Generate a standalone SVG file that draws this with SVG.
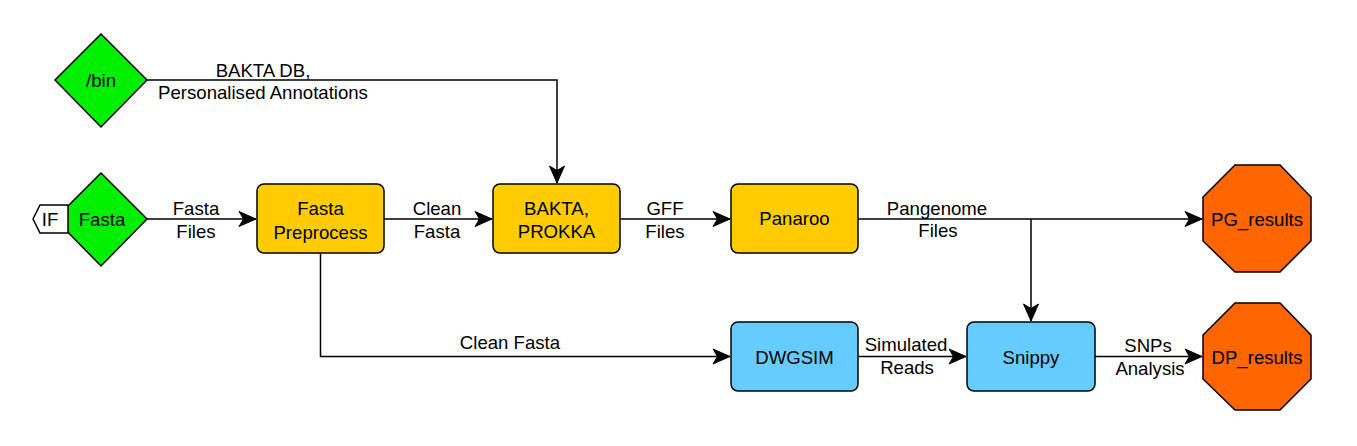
<svg xmlns="http://www.w3.org/2000/svg" width="1357" height="446" viewBox="0 0 1357 446">
<style>
text{font-family:"Liberation Sans",Arial,sans-serif;font-size:18.6px;fill:#000;text-anchor:middle}
.y{fill:#FFCC00;stroke:#000;stroke-width:1.5}
.b{fill:#66CCFF;stroke:#000;stroke-width:1.5}
.g{fill:#00EE00;stroke:#000;stroke-width:1.5}
.o{fill:#FF6600;stroke:#000;stroke-width:1.5}
.e{fill:none;stroke:#000;stroke-width:1.5}
</style>
<defs>
<marker id="ar" markerUnits="userSpaceOnUse" markerWidth="20" markerHeight="18" viewBox="-18 -9 20 18" refX="0" refY="0" orient="auto" overflow="visible">
<path d="M0,0 L-17,-7.5 L-12.5,0 L-17,7.5 Z" fill="#000" stroke="#000" stroke-width="1"/>
</marker>
</defs>
<g id="connectors">
<path class="e" d="M147,80 H557 V183" marker-end="url(#ar)"/>
<path class="e" d="M147,219 H256" marker-end="url(#ar)"/>
<path class="e" d="M384,219 H492" marker-end="url(#ar)"/>
<path class="e" d="M620,219 H730" marker-end="url(#ar)"/>
<path class="e" d="M858,219 H1202" marker-end="url(#ar)"/>
<path class="e" d="M1031,219 V321" marker-end="url(#ar)"/>
<path class="e" d="M320.5,253 V356.5 H730" marker-end="url(#ar)"/>
<path class="e" d="M858,356.5 H966" marker-end="url(#ar)"/>
<path class="e" d="M1095,356.5 H1202" marker-end="url(#ar)"/>
<text x="263" y="77">BAKTA DB,</text>
<text x="263" y="99">Personalised Annotations</text>
<text x="196" y="214.5">Fasta</text>
<text x="196" y="237.5">Files</text>
<text x="437" y="214.5">Clean</text>
<text x="437" y="237.5">Fasta</text>
<text x="665" y="214.5">GFF</text>
<text x="665" y="237.5">Files</text>
<text x="937" y="215">Pangenome</text>
<text x="938" y="237">Files</text>
<text x="510" y="348.5">Clean Fasta</text>
<text x="906" y="351">Simulated</text>
<text x="907" y="374">Reads</text>
<text x="1148" y="352">SNPs</text>
<text x="1150" y="375">Analysis</text>
</g>
<g id="bin">
<polygon class="g" points="101,34 147,80 101,127 55,80"/>
<text x="101" y="87">/bin</text>
</g>
<g id="fasta">
<polygon class="g" points="101,173 147,219 101,266 55,219"/>
<polygon points="33,219 40,205 68,205 68,233 40,233" fill="#fff" stroke="#000" stroke-width="1.5"/>
<text x="50" y="226">IF</text>
<text x="102" y="226">Fasta</text>
</g>
<g id="preprocess">
<rect class="y" x="257" y="184" width="127" height="69" rx="7"/>
<text x="320.5" y="214.5">Fasta</text>
<text x="320.5" y="238.5">Preprocess</text>
</g>
<g id="bakta">
<rect class="y" x="493" y="184" width="127" height="69" rx="7"/>
<text x="556.5" y="215">BAKTA,</text>
<text x="556.5" y="238">PROKKA</text>
</g>
<g id="panaroo">
<rect class="y" x="731" y="184" width="127" height="69" rx="7"/>
<text x="794.5" y="225">Panaroo</text>
</g>
<g id="dwgsim">
<rect class="b" x="731" y="322" width="127" height="69" rx="7"/>
<text x="794.5" y="364">DWGSIM</text>
</g>
<g id="snippy">
<rect class="b" x="967" y="322" width="128" height="69" rx="7"/>
<text x="1031" y="364">Snippy</text>
</g>
<g id="pg_results">
<polygon class="o" points="1235,165 1280,165 1311,197 1311,241 1280,272 1235,272 1203,241 1203,197"/>
<text x="1257" y="226">PG_results</text>
</g>
<g id="dp_results">
<polygon class="o" points="1235,303 1280,303 1311,335 1311,379 1280,410 1235,410 1203,379 1203,335"/>
<text x="1257" y="364">DP_results</text>
</g>
</svg>
